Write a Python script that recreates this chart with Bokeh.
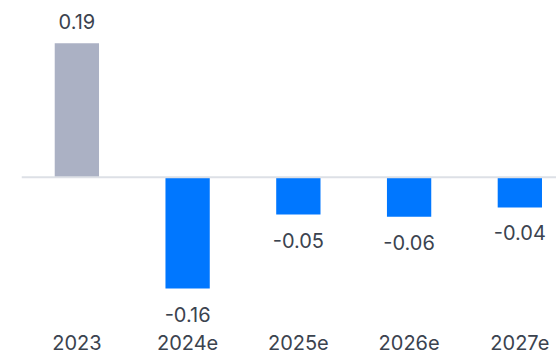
from bokeh.plotting import figure
from bokeh.models import Range1d, Span, ColumnDataSource
from bokeh.core.properties import value
from bokeh.embed import file_html
from bokeh.resources import INLINE

categories = ["2023", "2024e", "2025e", "2026e", "2027e"]
values = [0.19, -0.158, -0.053, -0.056, -0.043]
labels = ["0.19", "-0.16", "-0.05", "-0.06", "-0.04"]
bar_colors = ["#abb1c4", "#0077ff", "#0077ff", "#0077ff", "#0077ff"]

FONT = "Inter"
TEXT_COLOR = "#3b434f"
FONT_SIZE = "20px"

Y_START, Y_END = -0.2515, 0.2506

xs = list(range(len(categories)))
src = ColumnDataSource(dict(x=xs, top=values, color=bar_colors, label=labels))
pos = ColumnDataSource(dict(x=[x for x, v in zip(xs, values) if v >= 0],
                            y=[v for v in values if v >= 0],
                            label=[l for l, v in zip(labels, values) if v >= 0]))
neg = ColumnDataSource(dict(x=[x for x, v in zip(xs, values) if v < 0],
                            y=[v for v in values if v < 0],
                            label=[l for l, v in zip(labels, values) if v < 0]))
cats = ColumnDataSource(dict(x=xs, y=[Y_START] * len(xs), label=categories))

p = figure(width=556, height=354, output_backend="svg", toolbar_location=None,
           x_range=Range1d(-0.5, 4.331), y_range=Range1d(Y_START, Y_END),
           min_border_left=21, min_border_right=0, min_border_top=0,
           min_border_bottom=0,
           background_fill_color="white", border_fill_color="white")
p.outline_line_color = None
p.grid.visible = False
p.xaxis.visible = False
p.yaxis.visible = False

p.vbar(x="x", top="top", bottom=0, width=0.40, color="color", source=src, line_color=None)
p.add_layout(Span(location=0, dimension="width", line_color="#dde0e6", line_width=2))

p.text(x="x", y="y", text="label", source=pos, text_align="center",
       text_baseline="alphabetic", y_offset=-22, text_font=value(FONT),
       text_font_size=FONT_SIZE, text_color=TEXT_COLOR)
p.text(x="x", y="y", text="label", source=neg, text_align="center",
       text_baseline="top", y_offset=18, text_font=value(FONT),
       text_font_size=FONT_SIZE, text_color=TEXT_COLOR)
# category (x-axis) labels along the bottom edge
p.text(x="x", y="y", text="label", source=cats, text_align="center",
       text_baseline="alphabetic", y_offset=-12, text_font=value(FONT),
       text_font_size=FONT_SIZE, text_color=TEXT_COLOR)

open("out.html", "w").write(file_html(p, INLINE))
